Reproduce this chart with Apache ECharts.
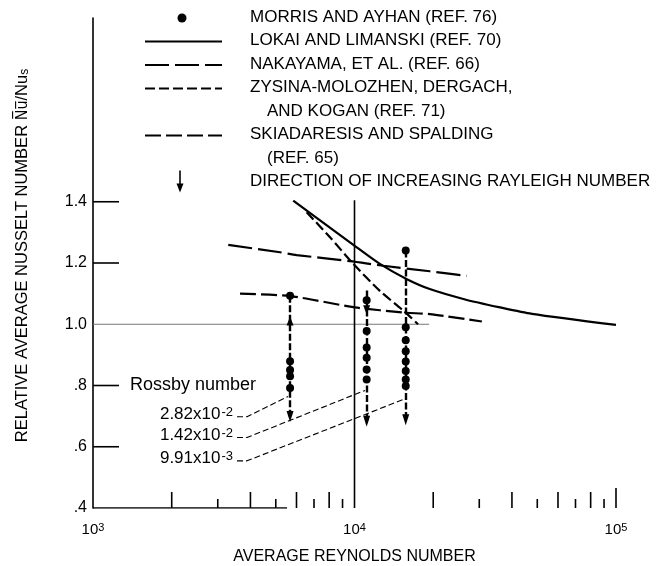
<!DOCTYPE html>
<html>
<head>
<meta charset="utf-8">
<script src="https://cdn.jsdelivr.net/npm/echarts@6/dist/echarts.min.js"></script>
<style>
  html, body { margin: 0; padding: 0; background: #fff; }
  #chart { width: 664px; height: 566px; }
</style>
</head>
<body>
<div id="chart"></div>
<script>
// ---- data ------------------------------------------------------------
// Lokai and Limanski (solid curve)
const lokaiRe = [5830, 10200, 12500, 15800, 19400, 26500, 35600, 47700, 100000];
const lokaiNu = [1.404, 1.251, 1.197, 1.148, 1.115, 1.081, 1.056, 1.034, 0.998];
// Nakayama et al. (long dashes)
const nakayamaRe = [3290, 5190, 6010, 9610, 12900, 19400, 26900];
const nakayamaNu = [1.259, 1.235, 1.226, 1.206, 1.191, 1.173, 1.158];
// Zysina-Molozhen, Dergach and Kogan (short dashes)
const zysinaRe = [6560, 8060, 9900, 12500, 15400, 17500];
const zysinaNu = [1.366, 1.284, 1.197, 1.109, 1.044, 1.000];
// Skiadaresis and Spalding (medium dashes)
const skiadRe = [3650, 5670, 10040, 15600, 19400, 30700];
const skiadNu = [1.100, 1.092, 1.055, 1.038, 1.033, 1.009];

// Morris and Ayhan: one column of points per Rossby number
const morrisRe = [5670, 11130, 15700];
const morrisTop = [1.093, 1.110, 1.241];
const morrisTip = [0.683, 0.667, 0.672];
const morrisDots = [
  [1.093, 0.879, 0.851, 0.830, 0.792],
  [1.078, 0.978, 0.924, 0.891, 0.852, 0.820],
  [1.241, 0.990, 0.948, 0.912, 0.878, 0.847, 0.820, 0.798]
];
const morrisMidArrowNu = [1.011, 1.047];
const morrisMidArrowUp = [true, false];

// Rossby number annotations and their leader lines
const rossbyText = ['2.82x10', '1.42x10', '9.91x10'];
const rossbyExp = ['-2', '-2', '-3'];
const rossbyLabelRe = [3430, 3430, 3430];
const rossbyLabelNu = [0.707, 0.638, 0.562];
const leaderRe = [[3554, 3880, 5569], [3554, 3880, 10970], [3554, 3880, 15330]];
const leaderNu = [[0.698, 0.698, 0.764], [0.630, 0.630, 0.784], [0.554, 0.554, 0.754]];
const rossbyTitleRe = 1385;
const rossbyTitleNu = 0.803;

// axes
const xTickValues = [2000, 3000, 4000, 5000, 6000, 7000, 8000, 9000,
                     20000, 30000, 40000, 50000, 60000, 70000, 80000, 90000, 100000];
const xLabelExp = { 1000: '3', 10000: '4', 100000: '5' };
const yTickValues = [0.6, 0.8, 1.2, 1.4];
const yLabelValues = [0.4, 0.6, 0.8, 1.0, 1.2, 1.4];
const yLabelText = ['.4', '.6', '.8', '1.0', '1.2', '1.4'];
const refLineRe = [1000, 19300];      // Nu/Nus = 1 reference line
const baselineRe = [1000, 5520];      // drawn part of the bottom axis
const markerRe = 10000;               // vertical rule at Re = 10^4
const markerNu = [0.4, 1.405];

const legendNames = [
  'MORRIS AND AYHAN (REF. 76)',
  'LOKAI AND LIMANSKI (REF. 70)',
  'NAKAYAMA, ET AL. (REF. 66)',
  'ZYSINA-MOLOZHEN, DERGACH,',
  'AND KOGAN (REF. 71)',
  'SKIADARESIS AND SPALDING',
  '(REF. 65)',
  'DIRECTION OF INCREASING RAYLEIGH NUMBER'
];

// ---- styles ----------------------------------------------------------
const FONT = "'Liberation Sans', Arial, sans-serif";
const INK = '#000';
const DASH_LONG = [24, 6];
const DASH_SHORT = [10, 4];
const DASH_MED = [16, 5];
const DASH_COLUMN = [7, 2.5];
const Y_MIN = 0.4;

const pairs = (xs, ys) => xs.map((x, i) => [x, ys[i]]);

const curve = (name, xs, ys, dash) => ({
  name, type: 'line', data: pairs(xs, ys), symbol: 'none', smooth: 0.25,
  silent: true, z: 3,
  lineStyle: { color: INK, width: 2.2, type: dash }
});

const series = [];

// reference line, baseline and the Re = 10^4 rule
series.push({
  type: 'line', data: pairs(refLineRe, [1, 1]), symbol: 'none', silent: true, z: 1,
  lineStyle: { color: '#777', width: 1 }
});
series.push({
  type: 'line', data: pairs(baselineRe, [Y_MIN, Y_MIN]), symbol: 'none', silent: true, z: 2,
  lineStyle: { color: INK, width: 1.6 }
});
series.push({
  type: 'line', data: [[markerRe, markerNu[0]], [markerRe, markerNu[1]]], symbol: 'none',
  silent: true, z: 2, lineStyle: { color: INK, width: 1.6 }
});

// x-axis minor/major ticks (drawn upward from the baseline)
series.push({
  type: 'custom', silent: true, z: 2,
  data: xTickValues.map(v => [v, Y_MIN]),
  encode: { x: 0, y: 1 },
  renderItem: (params, api) => {
    const v = api.value(0);
    const p = api.coord([v, api.value(1)]);
    const lead = Math.round(v / Math.pow(10, Math.floor(Math.log10(v) + 1e-9)));
    const len = lead === 1 ? 20 : (lead % 2 === 0 ? 16 : 9);
    return { type: 'line', shape: { x1: p[0], y1: p[1], x2: p[0], y2: p[1] - len },
             style: { stroke: INK, lineWidth: 1.6 } };
  }
});
// y-axis ticks (drawn inward)
series.push({
  type: 'custom', silent: true, z: 2,
  data: yTickValues.map(v => [1000, v]),
  encode: { x: 0, y: 1 },
  renderItem: (params, api) => {
    const p = api.coord([api.value(0), api.value(1)]);
    return { type: 'line', shape: { x1: p[0], y1: p[1], x2: p[0] + 26, y2: p[1] },
             style: { stroke: INK, lineWidth: 1.6 } };
  }
});

// correlations
series.push(curve(legendNames[1], lokaiRe, lokaiNu, 'solid'));
series.push(curve(legendNames[2], nakayamaRe, nakayamaNu, DASH_LONG));
series.push(curve('ZYSINA-MOLOZHEN, DERGACH, AND KOGAN (REF. 71)', zysinaRe, zysinaNu, DASH_SHORT));
series.push(curve('SKIADARESIS AND SPALDING (REF. 65)', skiadRe, skiadNu, DASH_MED));

// Morris and Ayhan columns with direction arrows
morrisRe.forEach((re, i) => {
  series.push({
    type: 'line', data: [], silent: true, z: 4,
    markLine: {
      silent: true, animation: false,
      symbol: ['none', 'triangle'], symbolSize: [7, 11],
      label: { show: false },
      itemStyle: { color: INK },
      lineStyle: { color: INK, width: 2.4, type: DASH_COLUMN, opacity: 1 },
      data: [[{ coord: [re, morrisTop[i]] }, { coord: [re, morrisTip[i] + 0.016] }]]
    }
  });
});
series.push({
  type: 'scatter', silent: true, z: 5, symbol: 'triangle', symbolSize: [7, 9],
  itemStyle: { color: INK, opacity: 1 },
  data: morrisMidArrowNu.map((nu, i) => ({
    value: [morrisRe[i], nu], symbolRotate: morrisMidArrowUp[i] ? 0 : 180
  }))
});
series.push({
  name: legendNames[0], type: 'scatter', silent: true, z: 6, symbol: 'circle', symbolSize: 8,
  itemStyle: { color: INK, opacity: 1 },
  data: morrisDots.flatMap((col, i) => col.map(nu => [morrisRe[i], nu]))
});

// Rossby number leaders and labels
leaderRe.forEach((xs, i) => {
  series.push({
    type: 'line', data: pairs(xs, leaderNu[i]), symbol: 'none', silent: true, z: 3,
    lineStyle: { color: INK, width: 1.1, type: [6, 3] }
  });
});
series.push({
  type: 'scatter', silent: true, z: 6, symbolSize: 0,
  itemStyle: { opacity: 1 },
  data: rossbyText.map((t, i) => ({ value: [rossbyLabelRe[i], rossbyLabelNu[i]], t, e: rossbyExp[i] })),
  label: {
    show: true, position: 'left', distance: 0, color: INK, opacity: 1,
    formatter: p => '{m|' + p.data.t + '}{s|' + p.data.e + '}',
    rich: {
      m: { fontFamily: FONT, fontSize: 17, lineHeight: 17, verticalAlign: 'bottom', color: INK },
      s: { fontFamily: FONT, fontSize: 13, lineHeight: 13, padding: [0, 0, 11, 1], verticalAlign: 'top', color: INK }
    }
  }
});
series.push({
  type: 'scatter', silent: true, z: 6, symbolSize: 0,
  itemStyle: { opacity: 1 },
  data: [[rossbyTitleRe, rossbyTitleNu]],
  label: { show: true, position: 'right', distance: 0, formatter: 'Rossby number', opacity: 1,
           fontFamily: FONT, fontSize: 18, color: INK }
});

// ---- legend (hand-placed key) -----------------------------------------
const LEG_X = 250, LEG_INDENT = 267, LEG_Y0 = 17, LEG_DY = 23.5;
const SYM_X1 = 145, SYM_X2 = 222;
const rowY = r => LEG_Y0 + r * LEG_DY;
const graphics = [];
legendNames.forEach((t, r) => {
  graphics.push({
    type: 'text', silent: true,
    style: { text: t, x: (r === 4 || r === 6) ? LEG_INDENT : LEG_X, y: rowY(r),
             fill: INK, font: '17px ' + FONT, verticalAlign: 'middle' }
  });
});
graphics.push({ type: 'circle', silent: true, shape: { cx: 182, cy: rowY(0) + 1, r: 4.5 }, style: { fill: INK } });
[[1, null], [2, DASH_LONG], [3, DASH_SHORT], [5, DASH_MED]].forEach(([r, dash]) => {
  graphics.push({
    type: 'line', silent: true,
    shape: { x1: SYM_X1, y1: rowY(r) + 1, x2: SYM_X2, y2: rowY(r) + 1 },
    style: { stroke: INK, lineWidth: 2.2, lineDash: dash }
  });
});
graphics.push({ type: 'line', silent: true, shape: { x1: 180, y1: rowY(7) - 11, x2: 180, y2: rowY(7) + 4 },
                style: { stroke: INK, lineWidth: 1.6 } });
graphics.push({ type: 'polygon', silent: true,
                shape: { points: [[176.5, rowY(7) + 2], [183.5, rowY(7) + 2], [180, rowY(7) + 11]] },
                style: { fill: INK } });

// ---- chart -----------------------------------------------------------
const chart = echarts.init(document.getElementById('chart'), null, { renderer: 'canvas' });
chart.setOption({
  animation: false,
  backgroundColor: '#fff',
  grid: { left: 93, right: 48, top: 18, bottom: 58, containLabel: false, outerBoundsMode: 'none' },
  xAxis: {
    type: 'log', logBase: 10, min: 1000, max: 100000,
    axisLine: { show: false }, axisTick: { show: false }, splitLine: { show: false },
    minorTick: { show: false }, minorSplitLine: { show: false },
    name: 'AVERAGE REYNOLDS NUMBER', nameLocation: 'middle', nameGap: 38,
    nameTextStyle: { fontFamily: FONT, fontSize: 16, color: INK },
    axisLabel: {
      margin: 14, color: INK, hideOverlap: false,
      formatter: v => xLabelExp[Math.round(v)] ? '{b|10}{s|' + xLabelExp[Math.round(v)] + '}' : '',
      rich: {
        b: { fontFamily: FONT, fontSize: 15, lineHeight: 15, verticalAlign: 'bottom', color: INK },
        s: { fontFamily: FONT, fontSize: 11, lineHeight: 11, padding: [0, 0, 11, 0], verticalAlign: 'top', color: INK }
      }
    }
  },
  yAxis: {
    type: 'value', min: 0.4, max: 2.0, interval: 0.2,
    axisLine: { show: true, lineStyle: { color: INK, width: 1.6 } },
    axisTick: { show: false }, splitLine: { show: false },
    axisLabel: {
      margin: 6, color: INK, fontFamily: FONT, fontSize: 16,
      formatter: v => {
        const i = yLabelValues.findIndex(y => Math.abs(y - v) < 1e-6);
        return i >= 0 ? yLabelText[i] : '';
      }
    },
    name: 'RELATIVE AVERAGE NUSSELT NUMBER {ov|N\u0305u\u0305}/Nu{sub|s}',
    nameLocation: 'middle', nameGap: 62, nameRotate: 90,
    nameTextStyle: {
      fontFamily: FONT, fontSize: 16.5, color: INK, padding: [0, 0, 0, 15],
      rich: {
        ov: { fontFamily: "'DejaVu Sans Condensed', " + FONT, fontSize: 16, color: INK },
        sub: { fontFamily: FONT, fontSize: 12, lineHeight: 12, padding: [9, 0, 0, 0], verticalAlign: 'bottom', color: INK }
      }
    }
  },
  graphic: graphics,
  series
});
</script>
</body>
</html>
